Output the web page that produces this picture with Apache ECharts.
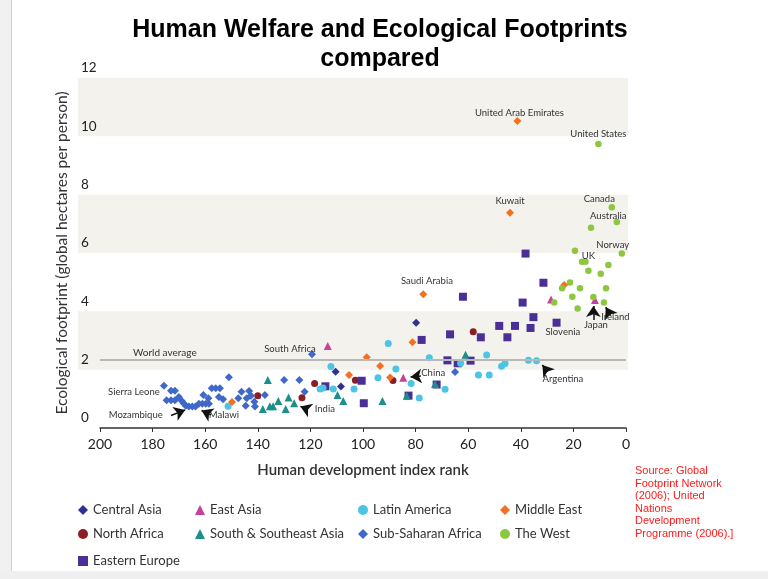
<!DOCTYPE html>
<html><head><meta charset="utf-8">
<script src="https://cdn.jsdelivr.net/npm/echarts@6/dist/echarts.min.js"></script>
<style>html,body{margin:0;padding:0;background:#fff}#c{width:768px;height:579px}</style>
</head><body><div id="c"></div>
<script>
// ---- data: [HDI rank, footprint, optional country label] ----
const centralAsia = [[110.4,1.93],[108.4,1.42],[79.8,3.61]];
const northAfrica = [[140.0,1.11],[123.2,1.04],[118.4,1.53],[102.9,1.64],[88.6,1.63],[58.1,3.30]];
const easternEurope = [[114.3,1.43],[100.5,1.62],[99.7,0.85],[82.7,1.11],[77.7,3.02],[72.0,1.49],[67.9,2.32],[66.9,3.21],[64.0,2.22],[62.0,4.50],[59.1,2.31],[55.2,3.11],[48.2,3.50],[45.1,3.11],[42.2,3.50],[39.3,4.30],[38.2,5.98],[36.3,3.43],[35.2,3.80],[31.4,4.98],[26.4,3.61,'Slovenia']];
const eastAsia = [[113.4,2.81],[84.7,1.72,'China'],[28.5,4.41],[11.8,4.39,'Japan']];
const southAsia = [[138.1,0.65],[136.2,1.65],[135.4,0.75],[134.2,0.75],[132.2,0.93],[129.4,0.65],[128.3,1.05],[126.2,0.85,'India'],[109.7,1.13],[107.5,0.93],[92.6,0.93],[83.4,1.11],[72.6,1.51],[61.0,2.51]];
const latinAmerica = [[151.3,0.75],[116.3,1.34],[115.2,1.37],[112.2,2.11],[111.3,1.34],[103.4,1.34],[94.3,1.72],[90.4,2.90],[87.5,2.02],[81.7,1.53],[78.6,1.03],[74.8,2.41],[68.8,1.33],[62.9,2.22],[56.1,1.82],[52.0,1.82],[53.0,2.50],[47.3,2.12],[46.0,2.21],[37.1,2.32],[34.0,2.31,'Argentina']];
const subSaharan = [[175.7,1.45,'Sierra Leone'],[173.0,1.28],[171.5,1.28],[174.7,0.95],[173.0,0.95],[171.5,0.95],[170.0,1.06],[168.9,0.93],[168.2,0.85],[167.4,0.76,'Mozambique'],[166.2,0.74],[164.9,0.74],[163.7,0.74],[162.4,0.83,'Malawi'],[161.1,0.83],[159.8,0.83],[158.6,0.83],[160.7,1.13],[158.8,1.02],[157.5,1.36],[156.0,1.36],[154.4,1.36],[154.8,1.06],[153.2,0.99],[151.0,1.74],[147.4,1.02],[146.2,1.24],[144.2,1.02],[143.3,1.27],[142.6,1.11],[141.3,0.90],[144.6,0.76],[141.1,0.74],[137.3,1.13],[130.0,1.65],[124.2,1.65],[122.2,1.24],[119.4,2.53,'South Africa'],[65.0,1.92]];
const middleEast = [[149.8,0.89],[105.3,1.82],[98.6,2.43],[93.5,2.13],[89.7,1.73],[81.2,2.94],[77.1,4.59,'Saudi Arabia'],[44.1,7.38,'Kuwait'],[41.3,10.53,'United Arab Emirates'],[23.5,4.90]];
const theWest = [[10.5,9.74,'United States'],[5.4,7.57,'Canada'],[3.5,7.06,'Australia'],[13.3,6.87],[19.4,6.08],[1.6,5.98,'Norway'],[16.7,5.70],[15.4,5.70,'UK'],[6.7,5.59],[14.3,5.39],[9.6,5.29],[21.3,4.99],[24.3,4.79],[17.5,4.79],[7.6,4.79],[20.4,4.50],[12.4,4.49],[27.3,4.30],[8.4,4.30,'Ireland'],[18.4,4.10]];
const worldAverage = 2.35;
const yTicks = [0,2,4,6,8,10,12];
const xTicks = [0,20,40,60,80,100,120,140,160,180,200];
const sourceLines = ['Source: Global','Footprint Network','(2006); United','Nations','Development','Programme (2006).]'];

// ---- annotation layout (pixel offsets of label centres from their point) ----
const labelOffsets = {
  'United Arab Emirates':[2,-8], 'United States':[0,-9.5], 'Kuwait':[0,-11.5], 'Canada':[-12.5,-8.5],
  'Australia':[-8.5,-5.7], 'Norway':[-9,-8.5], 'UK':[3,-5.7], 'Saudi Arabia':[3.7,-13],
  'South Africa':[-22,-5.6], 'Sierra Leone':[-30,6], 'Slovenia':[6.3,9], 'Mozambique':[-50,9.3],
  'Malawi':[25,10.8], 'India':[30.7,6.2], 'China':[30,-4.7], 'Argentina':[26.3,18.3],
  'Japan':[1,25], 'Ireland':[11.5,14.6]
};
// arrows in data coordinates: [tail, head]
const arrows = [
  [[173.0,0.43],[167.6,0.62]],
  [[157.8,0.45],[161.4,0.60]],
  [[121.3,0.65],[123.8,0.74]],
  [[78.0,1.78],[81.9,1.75]],
  [[29.8,1.93],[31.8,2.16]],
  [[12.4,3.70],[12.4,4.18]],
  [[5.8,3.85],[7.7,4.14]]
];

const FONT = 'Lato, "Open Sans", sans-serif';
function items(arr){
  return arr.map(p => {
    const it = {value:[p[0], p[1]]};
    if (p[2]) {
      it.name = p[2];
      it.label = {show:true, formatter:p[2], position:'inside', offset:labelOffsets[p[2]] || [0,0]};
    }
    return it;
  });
}
const groups = [
  {name:'Central Asia', data:centralAsia, symbol:'diamond', size:8, color:'#2e3192'},
  {name:'North Africa', data:northAfrica, symbol:'circle', size:7, color:'#8b1e24'},
  {name:'Eastern Europe', data:easternEurope, symbol:'rect', size:8, color:'#4a2f96'},
  {name:'East Asia', data:eastAsia, symbol:'triangle', size:8, color:'#c93f9c'},
  {name:'South & Southeast Asia', data:southAsia, symbol:'triangle', size:8, color:'#1b8f88'},
  {name:'Latin America', data:latinAmerica, symbol:'circle', size:7, color:'#4cc4e4'},
  {name:'Sub-Saharan Africa', data:subSaharan, symbol:'diamond', size:8, color:'#3f68c9'},
  {name:'Middle East', data:middleEast, symbol:'diamond', size:8, color:'#f36f21'},
  {name:'The West', data:theWest, symbol:'circle', size:6.5, color:'#8dc63f'}
];

const series = groups.map(g => ({
  type:'scatter', name:g.name, xAxisIndex:1, yAxisIndex:1,
  symbol:g.symbol, symbolSize:g.size, itemStyle:{color:g.color, opacity:1},
  label:{show:false, color:'#333', fontSize:9.5, fontFamily:FONT},
  data:items(g.data), z:3
}));
series.push({
  type:'scatter', name:'worldavg', xAxisIndex:1, yAxisIndex:1, data:[], z:2,
  markLine:{silent:true, symbol:['none','none'], animation:false,
    lineStyle:{color:'#b8b8b8', width:2, type:'solid'},
    label:{show:true, position:'insideStartTop', formatter:'World average', color:'#333', fontSize:10, fontFamily:FONT, padding:[0,0,0,31], distance:2},
    data:[[{coord:[xTicks[xTicks.length-1], worldAverage]},{coord:[xTicks[0], worldAverage]}]]}
});
series.push({
  type:'scatter', name:'arrows', xAxisIndex:1, yAxisIndex:1, data:[], z:4,
  markLine:{silent:true, symbol:['none','arrow'], symbolSize:11, animation:false,
    lineStyle:{color:'#111', width:1.5, type:'solid'}, label:{show:false},
    data:arrows.map(a => [{coord:a[0]},{coord:a[1]}])}
});

const legendBase = {orient:'vertical', padding:0, itemWidth:10, itemHeight:10, itemGap:10, selectedMode:false,
  textStyle:{fontSize:13, color:'#333', fontFamily:FONT, lineHeight:14}};
const chart = echarts.init(document.getElementById('c'), null, {renderer:'canvas'});
chart.setOption({
  animation:false,
  backgroundColor:'#fff',
  title:{text:'Human Welfare and Ecological Footprints\ncompared', left:380, top:16, padding:0, textAlign:'center',
    textStyle:{fontSize:25, fontWeight:'bold', color:'#000', fontFamily:'"Liberation Sans", Arial, sans-serif', lineHeight:29}},
  grid:[
    {left:78, right:140, top:78, bottom:151},
    {left:100, right:142, top:78, bottom:151}
  ],
  xAxis:[
    {gridIndex:0, type:'value', min:0, max:1, axisLine:{show:false}, axisTick:{show:false}, axisLabel:{show:false}, splitLine:{show:false}},
    {gridIndex:1, type:'value', min:xTicks[0], max:xTicks[xTicks.length-1], interval:20, inverse:true,
      name:'Human development index rank', nameLocation:'middle', nameGap:35,
      nameTextStyle:{fontSize:15, color:'#333', fontFamily:FONT, fontWeight:600},
      axisLine:{show:true, lineStyle:{color:'#333', width:1.5}},
      axisTick:{show:true, length:4, lineStyle:{color:'#333'}},
      axisLabel:{fontSize:14, color:'#222', fontFamily:FONT, margin:9},
      splitLine:{show:false}}
  ],
  yAxis:[
    {gridIndex:0, type:'value', min:0, max:12, interval:2, axisLine:{show:false}, axisTick:{show:false}, axisLabel:{show:false},
      splitLine:{show:false}, splitArea:{show:true, areaStyle:{color:['rgba(255,255,255,0)','#f3f2ed']}}},
    {gridIndex:1, type:'value', min:yTicks[0], max:yTicks[yTicks.length-1], interval:2,
      name:'Ecological footprint (global hectares per person)', nameLocation:'middle', nameGap:30, nameRotate:90,
      nameTextStyle:{fontSize:15.5, color:'#333', fontFamily:FONT},
      axisLine:{show:false}, axisTick:{show:false}, splitLine:{show:false},
      axisLabel:{fontSize:13.5, color:'#222', fontFamily:FONT, align:'left', margin:19, verticalAlign:'bottom', padding:[0,0,3,0]}}
  ],
  legend:[
    Object.assign({}, legendBase, {left:78, top:503, data:['Central Asia','North Africa']}),
    Object.assign({}, legendBase, {left:78, top:554, data:['Eastern Europe']}),
    Object.assign({}, legendBase, {left:195, top:503, data:['East Asia','South & Southeast Asia']}),
    Object.assign({}, legendBase, {left:358, top:503, data:['Latin America','Sub-Saharan Africa']}),
    Object.assign({}, legendBase, {left:500, top:503, data:['Middle East','The West']})
  ],
  graphic:[
    {type:'rect', shape:{x:0, y:0, width:11, height:579}, style:{fill:'#f1f1f1'}, z:-10},
    {type:'rect', shape:{x:0, y:571, width:768, height:8}, style:{fill:'#efefef'}, z:-10},
    {type:'line', shape:{x1:11.5, y1:0, x2:11.5, y2:571}, style:{stroke:'#d0d0d0', lineWidth:1}, z:-9},
    {type:'text', left:635, top:465, style:{text:sourceLines.join('\n'), fill:'#ff1a1a',
      font:'11px "Liberation Sans", Arial, sans-serif', lineHeight:12.5}}
  ],
  series:series
});
</script></body></html>
